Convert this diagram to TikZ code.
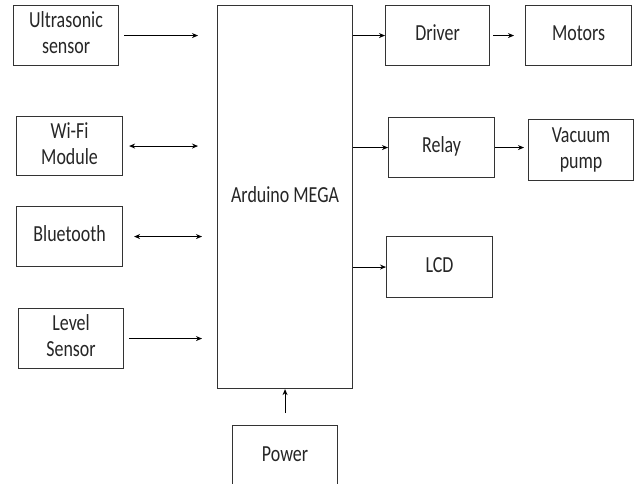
\documentclass[tikz,border=0pt]{standalone}
\usepackage{fontspec}
\usepackage{graphicx}
\setmainfont{Carlito}
\usetikzlibrary{arrows.meta}
% narrow, tall lettering as in the drawing
\newcommand\blabel[1]{\scalebox{0.78}[1]{\fontsize{23}{26}\selectfont\begin{tabular}{@{}c@{}}#1\end{tabular}}}

\begin{document}
\begin{tikzpicture}[x=1pt,y=-1pt]
\tikzset{
  blk/.style={draw=black!80, line width=1.1pt, fill=white, text=black!85, inner sep=0pt, anchor=north west},
  link/.style={draw=black, line width=0.9pt, -{Stealth[length=6pt,width=5pt]}},
  blink/.style={draw=black, line width=0.9pt, {Stealth[length=6pt,width=5pt]}-{Stealth[length=6pt,width=5pt]}}
}
\clip (0,0) rectangle (634,484);
\useasboundingbox (0,0) rectangle (634,484);
% inputs
\node[blk, minimum width=105pt, minimum height=60pt] (us) at (13,5) {\blabel{Ultrasonic\\sensor}};
\node[blk, minimum width=106pt, minimum height=59pt] (wifi) at (16,116) {\blabel{Wi-Fi\\Module}};
\node[blk, minimum width=106pt, minimum height=60pt] (bt) at (16,206) {\blabel{Bluetooth}};
\node[blk, minimum width=105pt, minimum height=60pt] (lvl) at (18,308) {\blabel{Level\\Sensor}};
% controller and supply
\node[blk, minimum width=135pt, minimum height=383pt] (ard) at (217,5) {\blabel{Arduino MEGA}};
\node[blk, minimum width=105pt, minimum height=61pt] (pwr) at (232,425) {\blabel{Power}};
% outputs
\node[blk, minimum width=104pt, minimum height=60pt] (drv) at (385,5) {\blabel{Driver}};
\node[blk, minimum width=106pt, minimum height=60pt] (mot) at (525,5) {\blabel{Motors}};
\node[blk, minimum width=106pt, minimum height=60pt] (rel) at (388,117) {\blabel{Relay}};
\node[blk, minimum width=105pt, minimum height=61pt] (vac) at (528,119) {\blabel{Vacuum\\pump}};
\node[blk, minimum width=106pt, minimum height=61pt] (lcd) at (386,236) {\blabel{LCD}};
% links
\draw[link, shorten <=5pt, shorten >=19pt] (us.east) -- (us.east -| ard.west);
\draw[blink, shorten <=6pt, shorten >=19pt] (wifi.east) -- (wifi.east -| ard.west);
\draw[blink, shorten <=11pt, shorten >=15pt] (bt.east) -- (bt.east -| ard.west);
\draw[link, shorten <=5pt, shorten >=15pt] (lvl.east) -- (lvl.east -| ard.west);
\draw[link] (drv.west -| ard.east) -- (drv.west);
\draw[link, shorten <=3pt, shorten >=11pt] (drv.east) -- (drv.east -| mot.west);
\draw[link] (rel.west -| ard.east) -- (rel.west);
\draw[link, shorten >=4pt] (rel.east) -- (rel.east -| vac.west);
\draw[link] (lcd.west -| ard.east) -- (lcd.west);
\draw[link, shorten <=12pt] (pwr.north) -- (pwr.north |- ard.south);
\end{tikzpicture}
\end{document}
